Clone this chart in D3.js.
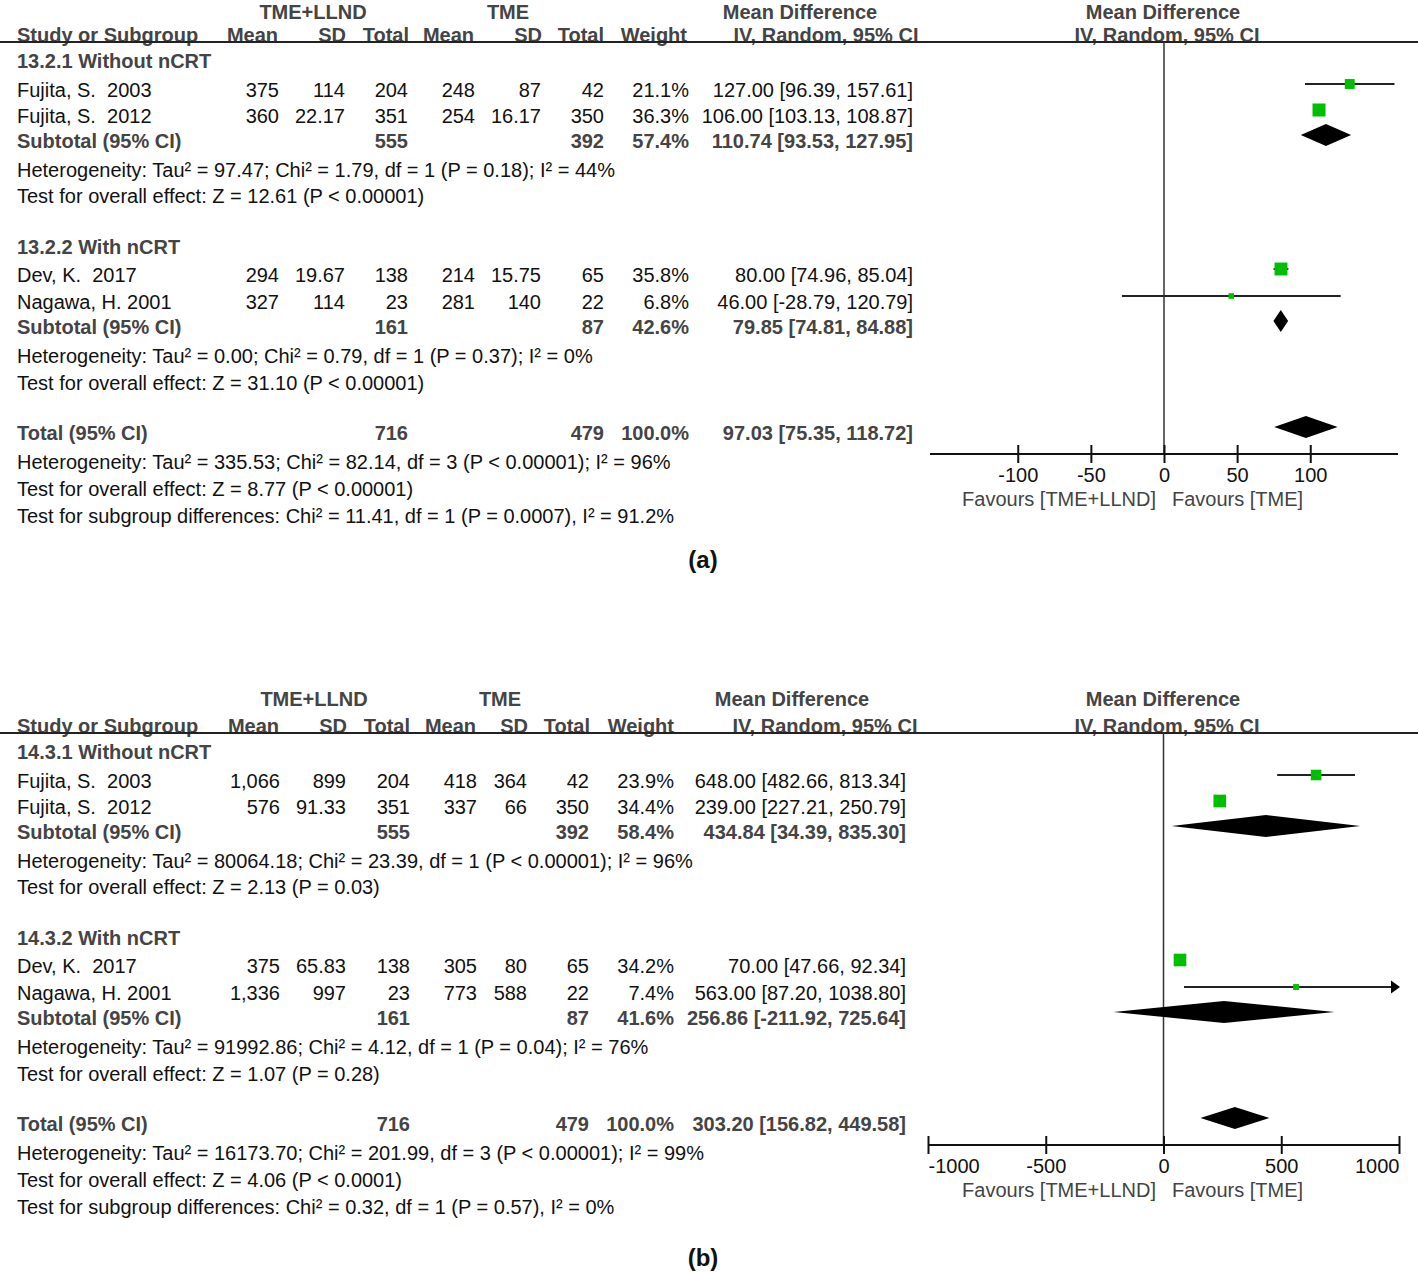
<!DOCTYPE html>
<html><head><meta charset="utf-8">
<script src="https://cdn.jsdelivr.net/npm/d3@7"></script>
<style>
body{margin:0;background:#fff}
text{font-family:"Liberation Sans",Arial,sans-serif;white-space:pre}
</style>
</head><body>
<svg id="c" width="1418" height="1272"></svg>
<script>
// ---------- Panel (a) data ----------
const groupsA = ["13.2.1 Without nCRT", "13.2.2 With nCRT"];
const studiesA = ["Fujita, S.  2003", "Fujita, S.  2012", "Dev, K.  2017", "Nagawa, H. 2001"];
const meanE_A = ["375", "360", "294", "327"];
const sdE_A = ["114", "22.17", "19.67", "114"];
const nE_A = [204, 351, 138, 23];
const meanC_A = ["248", "254", "214", "281"];
const sdC_A = ["87", "16.17", "15.75", "140"];
const nC_A = [42, 350, 65, 22];
const weightA = [21.1, 36.3, 35.8, 6.8];
const mdA = [127.00, 106.00, 80.00, 46.00];
const loA = [96.39, 103.13, 74.96, -28.79];
const hiA = [157.61, 108.87, 85.04, 120.79];
const subNE_A = [555, 161], subNC_A = [392, 87], subW_A = [57.4, 42.6];
const subMD_A = [110.74, 79.85], subLo_A = [93.53, 74.81], subHi_A = [127.95, 84.88];
const subHetA = ["Heterogeneity: Tau² = 97.47; Chi² = 1.79, df = 1 (P = 0.18); I² = 44%",
                 "Heterogeneity: Tau² = 0.00; Chi² = 0.79, df = 1 (P = 0.37); I² = 0%"];
const subZA = ["Test for overall effect: Z = 12.61 (P < 0.00001)",
               "Test for overall effect: Z = 31.10 (P < 0.00001)"];
const totA = {nE: 716, nC: 479, w: 100.0, md: 97.03, lo: 75.35, hi: 118.72};
const totTextA = ["Heterogeneity: Tau² = 335.53; Chi² = 82.14, df = 3 (P < 0.00001); I² = 96%",
                  "Test for overall effect: Z = 8.77 (P < 0.00001)",
                  "Test for subgroup differences: Chi² = 11.41, df = 1 (P = 0.0007), I² = 91.2%"];
const ticksA = [-100, -50, 0, 50, 100];
const domainA = [-160, 160];

// ---------- Panel (b) data ----------
const groupsB = ["14.3.1 Without nCRT", "14.3.2 With nCRT"];
const studiesB = ["Fujita, S.  2003", "Fujita, S.  2012", "Dev, K.  2017", "Nagawa, H. 2001"];
const meanE_B = ["1,066", "576", "375", "1,336"];
const sdE_B = ["899", "91.33", "65.83", "997"];
const nE_B = [204, 351, 138, 23];
const meanC_B = ["418", "337", "305", "773"];
const sdC_B = ["364", "66", "80", "588"];
const nC_B = [42, 350, 65, 22];
const weightB = [23.9, 34.4, 34.2, 7.4];
const mdB = [648.00, 239.00, 70.00, 563.00];
const loB = [482.66, 227.21, 47.66, 87.20];
const hiB = [813.34, 250.79, 92.34, 1038.80];
const subNE_B = [555, 161], subNC_B = [392, 87], subW_B = [58.4, 41.6];
const subMD_B = [434.84, 256.86], subLo_B = [34.39, -211.92], subHi_B = [835.30, 725.64];
const subHetB = ["Heterogeneity: Tau² = 80064.18; Chi² = 23.39, df = 1 (P < 0.00001); I² = 96%",
                 "Heterogeneity: Tau² = 91992.86; Chi² = 4.12, df = 1 (P = 0.04); I² = 76%"];
const subZB = ["Test for overall effect: Z = 2.13 (P = 0.03)",
               "Test for overall effect: Z = 1.07 (P = 0.28)"];
const totB = {nE: 716, nC: 479, w: 100.0, md: 303.20, lo: 156.82, hi: 449.58};
const totTextB = ["Heterogeneity: Tau² = 16173.70; Chi² = 201.99, df = 3 (P < 0.00001); I² = 99%",
                  "Test for overall effect: Z = 4.06 (P < 0.0001)",
                  "Test for subgroup differences: Chi² = 0.32, df = 1 (P = 0.57), I² = 0%"];
const ticksB = [-1000, -500, 0, 500, 1000];
const domainB = [-1000, 1000];

// ---------- labels ----------
const colHeaders = ["Mean", "SD", "Total", "Mean", "SD", "Total", "Weight"];
const favLeft = "Favours [TME+LLND]", favRight = "Favours [TME]";

const svg = d3.select("#c");
svg.append("rect").attr("width", 1418).attr("height", 1272).attr("fill", "#fff");

const BOLD = "#444", REG = "#111";
function txt(g, x, y, s, o = {}) {
  return g.append("text").attr("x", x).attr("y", y).attr("dy", "0.35em")
    .attr("text-anchor", o.anchor || "start")
    .attr("font-size", o.size || 20)
    .attr("font-weight", o.bold ? "bold" : "normal")
    .attr("fill", o.color || (o.bold ? BOLD : REG))
    .attr("font-family", o.family || null)
    .text(s);
}
const f2 = v => v.toFixed(2);
const ci = (m, l, h) => `${f2(m)} [${f2(l)}, ${f2(h)}]`;
const pct = w => w.toFixed(1) + "%";

function drawPanel(p) {
  const g = svg.append("g");
  const L = p.L;
  const x = d3.scaleLinear().domain(p.domain).range(p.range);
  const size = w => 2.16 * Math.sqrt(w);

  // header row 1
  const h1y = Math.max(L - 34, 12);
  txt(g, p.h1[0], h1y, "TME+LLND", {anchor: "middle", bold: true});
  txt(g, p.h1[1], h1y, "TME", {anchor: "middle", bold: true});
  txt(g, p.h1[2], h1y, "Mean Difference", {anchor: "middle", bold: true});
  txt(g, p.h1[3], h1y, "Mean Difference", {anchor: "middle", bold: true});
  // header row 2
  txt(g, 17, L - 7.5, "Study or Subgroup", {bold: true});
  colHeaders.forEach((h, i) => txt(g, p.h2[i], L - 7.5, h, {anchor: "end", bold: true}));
  txt(g, p.h2[7], L - 7.5, "IV, Random, 95% CI", {anchor: "middle", bold: true});
  txt(g, p.h2[8], L - 7.5, "IV, Random, 95% CI", {anchor: "middle", bold: true});
  g.append("line").attr("x1", 0).attr("x2", 1418).attr("y1", L).attr("y2", L)
    .attr("stroke", "#222").attr("stroke-width", 2);

  const c = p.cols;
  const studyOff = [48, 74, 233, 260];
  const groupOff = [19, 205], subOff = [99, 285], hetOff = [128, 314], zOff = [154, 341];
  const axisY = L + 412;

  // zero line
  g.append("line").attr("x1", x(0)).attr("x2", x(0)).attr("y1", L).attr("y2", axisY)
    .attr("stroke", "#333").attr("stroke-width", 1.5);

  p.groups.forEach((gr, k) => {
    txt(g, 17, L + groupOff[k], gr, {bold: true});
    txt(g, 17, L + subOff[k], "Subtotal (95% CI)", {bold: true});
    txt(g, c[2], L + subOff[k], String(p.subNE[k]), {anchor: "end", bold: true});
    txt(g, c[5], L + subOff[k], String(p.subNC[k]), {anchor: "end", bold: true});
    txt(g, c[6], L + subOff[k], pct(p.subW[k]), {anchor: "end", bold: true});
    txt(g, c[7], L + subOff[k], ci(p.subMD[k], p.subLo[k], p.subHi[k]), {anchor: "end", bold: true});
    txt(g, 17, L + hetOff[k], p.subHet[k]);
    txt(g, 17, L + zOff[k], p.subZ[k]);
    // diamond
    const dy = L + subOff[k] - 6;
    g.append("path").attr("d",
      `M${x(p.subLo[k])},${dy} L${x(p.subMD[k])},${dy - 11} L${x(p.subHi[k])},${dy} L${x(p.subMD[k])},${dy + 11} Z`)
      .attr("fill", "#000");
  });

  p.studies.forEach((s, i) => {
    const y = L + studyOff[i];
    txt(g, 17, y, s);
    txt(g, c[0], y, p.meanE[i], {anchor: "end"});
    txt(g, c[1], y, p.sdE[i], {anchor: "end"});
    txt(g, c[2], y, String(p.nE[i]), {anchor: "end"});
    txt(g, c[3], y, p.meanC[i], {anchor: "end"});
    txt(g, c[4], y, p.sdC[i], {anchor: "end"});
    txt(g, c[5], y, String(p.nC[i]), {anchor: "end"});
    txt(g, c[6], y, pct(p.weight[i]), {anchor: "end"});
    txt(g, c[7], y, ci(p.md[i], p.lo[i], p.hi[i]), {anchor: "end"});
    // marker
    const my = y - 6;
    const dmax = p.domain[1];
    const over = p.hi[i] > dmax;
    const x2 = over ? x(dmax) - 6 : x(p.hi[i]);
    g.append("line").attr("x1", x(Math.max(p.lo[i], p.domain[0]))).attr("x2", x2)
      .attr("y1", my).attr("y2", my).attr("stroke", "#222").attr("stroke-width", 2);
    if (over) {
      const xe = x(dmax) + 1;
      g.append("path").attr("d", `M${xe},${my} L${xe - 9},${my - 6.5} L${xe - 9},${my + 6.5} Z`).attr("fill", "#000");
    }
    const sz = size(p.weight[i]);
    g.append("rect").attr("x", x(p.md[i]) - sz / 2).attr("y", my - sz / 2)
      .attr("width", sz).attr("height", sz).attr("fill", "#00bf00");
  });

  // total
  const t = p.tot;
  txt(g, 17, L + 391, "Total (95% CI)", {bold: true});
  txt(g, c[2], L + 391, String(t.nE), {anchor: "end", bold: true});
  txt(g, c[5], L + 391, String(t.nC), {anchor: "end", bold: true});
  txt(g, c[6], L + 391, pct(t.w), {anchor: "end", bold: true});
  txt(g, c[7], L + 391, ci(t.md, t.lo, t.hi), {anchor: "end", bold: true});
  const ty = L + 391 - 6;
  g.append("path").attr("d",
    `M${x(t.lo)},${ty} L${x(t.md)},${ty - 11} L${x(t.hi)},${ty} L${x(t.md)},${ty + 11} Z`).attr("fill", "#000");
  [420, 447, 474].forEach((o, i) => txt(g, 17, L + o, p.totText[i]));

  // axis
  const ax = g.append("g").attr("transform", `translate(0,${axisY})`)
    .call(d3.axisBottom(x).tickValues(p.ticks).tickSize(8).tickSizeOuter(0).tickFormat(d => String(d)));
  ax.select(".domain").remove();
  ax.selectAll(".tick line").attr("y1", -9).attr("y2", 9).attr("stroke", "#111").attr("stroke-width", 2);
  ax.selectAll(".tick text").attr("y", 21).attr("dy", "0.35em")
    .attr("font-size", 20).attr("fill", "#111").attr("font-family", "Liberation Sans, Arial, sans-serif")
    .attr("text-anchor", d => d === p.domain[0] ? "start" : d === p.domain[1] ? "end" : "middle");
  ax.append("line").attr("x1", p.range[0]).attr("x2", p.range[1]).attr("y1", 0).attr("y2", 0)
    .attr("stroke", "#111").attr("stroke-width", 2);
  txt(g, 1156, axisY + 45, favLeft, {anchor: "end", color: "#444"});
  txt(g, 1172, axisY + 45, favRight, {color: "#444"});

  txt(g, 703, L + p.labelOff, p.label, {anchor: "middle", bold: true, color: "#111", size: 24, family: "DejaVu Sans, Verdana, sans-serif"});
}

drawPanel({
  L: 42, domain: domainA, range: [930, 1398], ticks: ticksA,
  h1: [313, 508, 800, 1163], h2: [278, 346, 409, 474, 542, 604, 687, 826, 1167],
  cols: [279, 345, 408, 475, 541, 604, 689, 913],
  groups: groupsA, studies: studiesA, meanE: meanE_A, sdE: sdE_A, nE: nE_A,
  meanC: meanC_A, sdC: sdC_A, nC: nC_A, weight: weightA, md: mdA, lo: loA, hi: hiA,
  subNE: subNE_A, subNC: subNC_A, subW: subW_A, subMD: subMD_A, subLo: subLo_A, subHi: subHi_A,
  subHet: subHetA, subZ: subZA, tot: totA, totText: totTextA, label: "(a)", labelOff: 518
});
drawPanel({
  L: 733, domain: domainB, range: [928, 1399], ticks: ticksB,
  h1: [314, 500, 792, 1163], h2: [279, 347, 410, 476, 528, 590, 674, 825, 1167],
  cols: [280, 346, 410, 477, 527, 589, 674, 906],
  groups: groupsB, studies: studiesB, meanE: meanE_B, sdE: sdE_B, nE: nE_B,
  meanC: meanC_B, sdC: sdC_B, nC: nC_B, weight: weightB, md: mdB, lo: loB, hi: hiB,
  subNE: subNE_B, subNC: subNC_B, subW: subW_B, subMD: subMD_B, subLo: subLo_B, subHi: subHi_B,
  subHet: subHetB, subZ: subZB, tot: totB, totText: totTextB, label: "(b)", labelOff: 525
});
</script>
</body></html>
